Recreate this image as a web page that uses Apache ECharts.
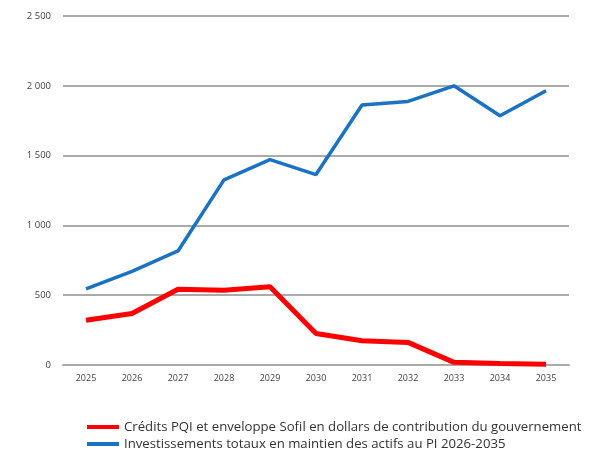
<!DOCTYPE html>
<html>
<head>
<meta charset="utf-8">
<script src="https://cdn.jsdelivr.net/npm/echarts@6/dist/echarts.min.js"></script>
<style>
  html, body { margin: 0; padding: 0; background: #fff; }
  #chart { width: 597px; height: 449px; }
</style>
</head>
<body>
<div id="chart"></div>
<script>
const years = ['2025', '2026', '2027', '2028', '2029', '2030', '2031', '2032', '2033', '2034', '2035']
const creditsPQI = [321, 369, 543, 536, 560, 226, 174, 162, 19, 10, 5]
const investTotaux = [545, 671, 817, 1326, 1471, 1364, 1862, 1888, 2000, 1786, 1964]
const nameRed = 'Crédits PQI et enveloppe Sofil en dollars de contribution du gouvernement'
const nameBlue = 'Investissements totaux en maintien des actifs au PI 2026-2035'

const chart = echarts.init(document.getElementById('chart'))
const option = {
  animation: false,
  backgroundColor: '#fff',
  textStyle: { fontFamily: 'Open Sans' },
  grid: { left: 63, right: 28, top: 16, bottom: 84 },
  legend: {
    orient: 'vertical',
    left: 82,
    top: 414,
    height: 60,
    itemWidth: 32,
    itemHeight: 4,
    itemGap: 1,
    icon: 'rect',
    textStyle: { color: '#333', fontSize: 13.2, lineHeight: 16 },
    data: [nameRed, nameBlue]
  },
  xAxis: {
    type: 'category',
    data: years,
    boundaryGap: true,
    axisLine: { lineStyle: { color: '#aaa', width: 2 } },
    axisTick: { show: false },
    axisLabel: { color: '#444', fontSize: 9, margin: 9 }
  },
  yAxis: {
    type: 'value',
    min: 0,
    max: 2500,
    interval: 500,
    axisLine: { show: false },
    axisTick: { show: false },
    splitLine: { lineStyle: { color: '#aaa', width: 2 } },
    axisLabel: {
      color: '#444',
      fontSize: 9.5,
      margin: 12,
      formatter: v => String(v).replace(/\B(?=(\d{3})+(?!\d))/g, ' ')
    }
  },
  series: [
    {
      name: nameRed,
      type: 'line',
      data: creditsPQI,
      symbol: 'none',
      lineStyle: { color: '#ff0000', width: 5 },
      itemStyle: { color: '#ff0000' }
    },
    {
      name: nameBlue,
      type: 'line',
      data: investTotaux,
      symbol: 'none',
      lineStyle: { color: '#1a72c4', width: 3.5 },
      itemStyle: { color: '#1a72c4' }
    }
  ]
}
chart.setOption(option)
</script>
</body>
</html>
